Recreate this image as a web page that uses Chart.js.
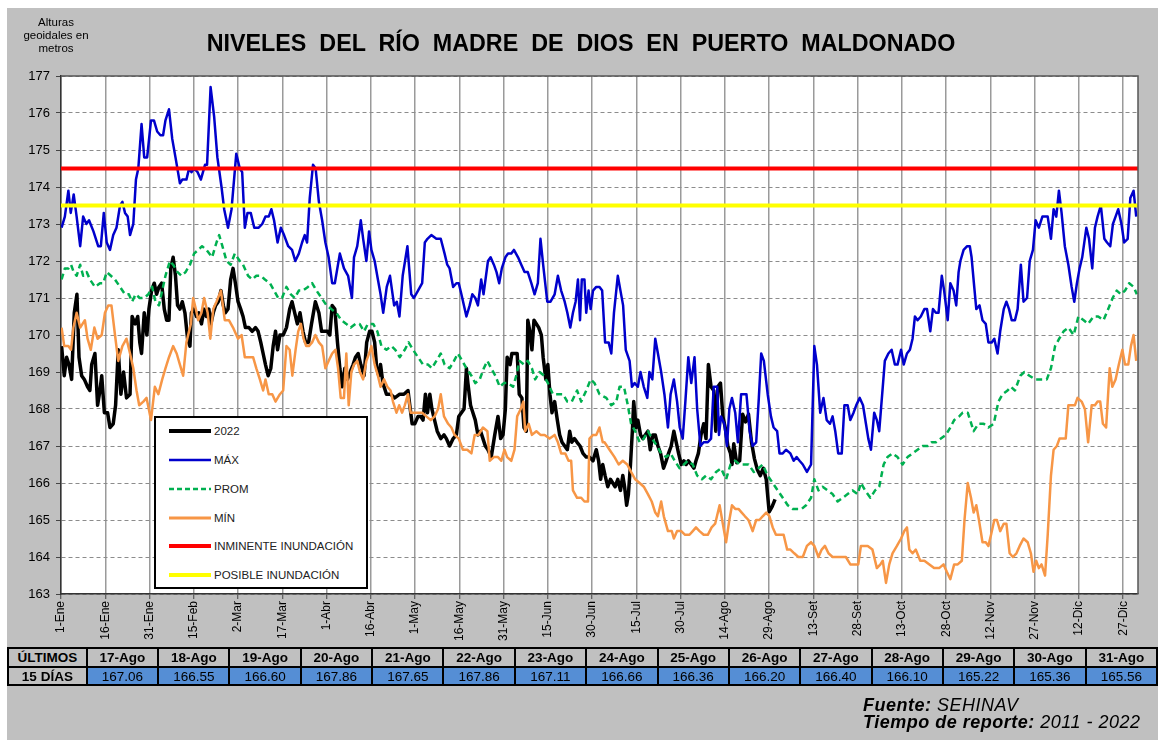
<!DOCTYPE html>
<html lang="es">
<head>
<meta charset="utf-8">
<title>Niveles del río Madre de Dios en Puerto Maldonado</title>
<script src="https://cdn.jsdelivr.net/npm/chart.js@4/dist/chart.umd.min.js"></script>
<style>
  html, body { margin: 0; padding: 0; background: #fff; }
  body { width: 1158px; height: 740px; position: relative; overflow: hidden; font-family: Arial, "Liberation Sans", sans-serif; }
  #fondo { position: absolute; left: 7px; top: 8px; width: 1151px; height: 732px; background: #c0c0c0; }
  #grafico { position: absolute; left: 0; top: 0; }
  #ejeTitulo { position: absolute; left: 14px; top: 16px; width: 84px; text-align: center; font-size: 11.5px; line-height: 13px; color: #000; }
  #titulo { position: absolute; left: 0; top: 30px; width: 1162px; text-align: center; font-size: 23.3px; font-weight: bold; white-space: pre; color: #000; }
  #leyenda { position: absolute; left: 154px; top: 416px; width: 214px; height: 173px; box-sizing: border-box; border: 2.5px solid #000; background: #fff; z-index: 2; }
  .item { position: absolute; left: 12px; height: 12px; font-size: 11.5px; line-height: 12px; color: #222; white-space: nowrap; }
  .item svg { position: absolute; left: 0; top: 0; }
  .item span { position: absolute; left: 46px; top: 0; }
  #tabla { position: absolute; left: 7px; top: 647px; border-collapse: collapse; table-layout: fixed; z-index: 2; }
  #tabla td { border: 2px solid #000; text-align: center; font-size: 13.5px; padding: 0; overflow: hidden; white-space: nowrap; }
  #tabla tr.cab td { height: 17px; font-weight: bold; background: #c0c0c0; }
  #tabla tr.val td { height: 16px; background: #558ed5; }
  #tabla tr.val td.lado { background: #c0c0c0; font-weight: bold; }
  #fuente { position: absolute; left: 863px; top: 697px; font-size: 18px; line-height: 17px; letter-spacing: 0.5px; font-style: italic; color: #000; white-space: nowrap; }
  #fuente b { font-weight: bold; }
</style>
</head>
<body>
<div id="fondo"></div>
<canvas id="grafico" width="1158" height="740"></canvas>
<div id="ejeTitulo">Alturas<br>geoidales en<br>metros</div>
<div id="titulo">NIVELES  DEL  RÍO  MADRE  DE  DIOS  EN  PUERTO  MALDONADO</div>
<div id="leyenda"></div>
<table id="tabla"></table>
<div id="fuente"><b>Fuente:</b> SEHINAV<br><b>Tiempo de reporte:</b> 2011 - 2022</div>

<script>
// eje x: día del año (0 = 1-Ene)
const etiquetasX = ['1-Ene','16-Ene','31-Ene','15-Feb','2-Mar','17-Mar','1-Abr','16-Abr','1-May','16-May',
  '31-May','15-Jun','30-Jun','15-Jul','30-Jul','14-Ago','29-Ago','13-Set','28-Set','13-Oct',
  '28-Oct','12-Nov','27-Nov','12-Dic','27-Dic'];
const diasTick = [0,15,30,45,60,75,90,105,120,135,150,165,180,195,210,225,240,255,270,285,300,315,330,345,360];

// umbrales (m)
const nivelInminente = 174.5;
const nivelPosible = 173.5;

// últimos 15 días (tabla inferior)
const ultimosFechas = ['17-Ago','18-Ago','19-Ago','20-Ago','21-Ago','22-Ago','23-Ago','24-Ago','25-Ago','26-Ago','27-Ago','28-Ago','29-Ago','30-Ago','31-Ago'];
const ultimosValores = [167.06,166.55,166.60,167.86,167.65,167.86,167.11,166.66,166.36,166.20,166.40,166.10,165.22,165.36,165.56];
const primerDiaTabla = 228; // 17-Ago

// [día, altura]
const serieMax = [[0.2,172.9],[1.3,173.2],[2.5,173.9],[3.3,173.3],[4.3,173.8],[5.3,173.2],[6.5,172.4],[7.5,173.2],[8.6,173.0],[9.5,173.1],[11,172.8],[12.6,172.4],[13.5,172.4],[14.5,173.3],[15.5,172.5],[16.6,172.3],[17.7,172.7],[18.8,172.9],[20,173.5],[20.8,173.6],[21.7,173.3],[22.6,173.2],[23.4,172.7],[24.5,173.0],[25.4,174.2],[26.2,174.5],[27.3,175.7],[28.2,174.8],[29.2,174.8],[30.5,175.8],[31.5,175.8],[32.6,175.5],[33.7,175.4],[34.6,175.4],[35.4,175.8],[36.6,176.1],[37.7,175.3],[38.8,174.8],[40.3,174.1],[41.1,174.2],[42.5,174.2],[43.4,174.5],[44.2,174.4],[45.1,174.5],[46.3,174.4],[47.4,174.2],[48.8,174.6],[49.5,174.6],[50.7,176.7],[51.9,175.9],[53,174.8],[54.4,174.0],[55.3,173.4],[56.6,172.9],[57.8,173.4],[59.4,174.9],[60.6,174.5],[61.4,174.4],[62.3,172.9],[63.2,173.3],[64.3,173.3],[65.5,172.9],[67,172.9],[68.2,173.0],[69.3,173.2],[70.4,173.2],[71.3,173.4],[72.2,173.1],[73.4,172.5],[74.5,172.9],[75.6,172.7],[77,172.4],[78.3,172.3],[79.4,172.0],[80.6,172.2],[81.7,172.5],[82.6,172.7],[83.4,172.5],[84.3,173.7],[85.4,174.6],[86.3,174.5],[87.4,173.6],[88.5,173.1],[89.6,172.5],[90.7,172.1],[91.9,171.4],[92.8,171.4],[94.5,172.2],[95.9,171.8],[97.3,171.6],[98.6,171.0],[99.3,172.1],[100.4,172.4],[101.6,173.1],[102.4,172.6],[103.5,172.0],[104.4,172.8],[105.2,172.3],[106.3,172.0],[107.4,171.5],[108.3,171.1],[109.2,170.6],[110.4,171.3],[111.5,171.6],[112.9,170.8],[113.8,170.9],[114.7,170.5],[115.8,171.6],[117.4,172.4],[118.7,171.1],[119.6,171.0],[121,171.2],[122.4,171.4],[123.3,172.5],[124.2,172.6],[125.5,172.7],[127.2,172.6],[128.7,172.6],[130,172.2],[130.9,171.9],[131.7,171.8],[132.9,171.3],[134,171.4],[134.8,171.4],[135.7,171.1],[137.4,170.5],[138.5,170.8],[139.4,171.1],[140.4,171.0],[141.3,170.8],[142.4,171.5],[143.2,171.1],[144.7,172.0],[145.6,172.1],[146.7,171.9],[147.6,171.7],[148.5,171.4],[149.4,171.8],[150.6,172.1],[151.5,172.2],[152.6,172.2],[153.5,172.3],[154.9,172.1],[156,171.9],[157.1,171.7],[158.2,171.7],[159.4,171.4],[160.5,171.1],[161.6,171.4],[162.5,172.6],[163.4,171.9],[164.8,170.9],[165.9,170.9],[167.3,171.1],[168.4,171.6],[169.5,171.2],[170.7,170.9],[171.6,170.6],[172.6,170.2],[173.5,170.6],[174.4,170.9],[175.2,171.5],[175.9,170.4],[176.5,171.5],[177.4,171.5],[178,170.6],[178.8,171.2],[179.5,170.7],[180.3,171.2],[181.4,171.3],[182.5,171.3],[183.4,171.2],[184.4,169.8],[185.6,169.8],[186.5,169.5],[187.4,170.6],[188.7,171.6],[189.6,171.2],[190.5,170.8],[191.4,169.6],[192.7,169.3],[193.5,168.6],[194.4,168.7],[195.5,168.6],[196.4,169.0],[197.5,168.6],[198.7,168.3],[199.4,169.0],[200.4,168.8],[201.4,169.9],[202.3,169.5],[203.4,169.0],[204.5,168.4],[205.7,167.5],[206.6,168.4],[207.7,168.8],[208.8,168.2],[209.7,167.5],[210.7,167.2],[211.6,168.2],[212.6,169.4],[213.6,168.7],[214.7,169.4],[215.6,168.0],[216.7,167.0],[217.8,167.1],[219.2,167.1],[220.3,167.2],[221.2,168.6],[222.4,168.6],[223,167.3],[223.7,167.8],[224.8,167.6],[225.7,167.0],[226.5,168.0],[227.4,168.3],[228.5,167.9],[229.4,167.1],[230.5,168.4],[231.4,168.4],[232.3,168.4],[233.4,167.4],[234.4,167.0],[235.6,167.1],[236.5,168.3],[237.3,169.5],[238.2,169.3],[239.5,168.4],[240.6,167.8],[241.5,167.5],[242.7,167.4],[243.5,166.8],[244.6,166.8],[245.7,166.9],[247.2,166.8],[248.3,166.6],[249.3,166.7],[250.3,166.6],[251.4,166.5],[252.8,166.3],[254.2,166.5],[255.3,169.7],[256.2,169.2],[257.3,167.9],[258.4,168.3],[259.5,167.7],[260.6,167.6],[261.5,167.8],[262.4,167.4],[263.4,166.8],[264.6,166.8],[265.5,168.1],[266.6,168.1],[267.5,167.7],[268.6,167.9],[269.5,168.1],[270.7,168.3],[271.8,168.1],[272.8,167.6],[273.6,167.2],[274.5,166.9],[275.6,167.9],[276.5,167.7],[277.3,167.4],[278.5,168.6],[279.2,169.3],[280.4,169.5],[281.5,169.6],[282.6,169.2],[283.5,169.2],[284.7,169.6],[285.6,169.2],[286.7,169.5],[287.7,169.6],[288.6,169.9],[289.4,170.5],[290.3,170.4],[291.4,170.5],[292.6,170.7],[293.5,170.7],[294.6,170.1],[295.5,170.7],[296.5,170.6],[297.4,170.6],[298.5,171.6],[299.3,171.2],[300.5,170.4],[301.4,171.4],[302.5,171.2],[303.4,170.8],[304.2,171.7],[304.8,172.0],[305.9,172.3],[307.1,172.4],[308,172.4],[308.6,172.1],[309.5,171.3],[310.2,170.7],[311.3,170.8],[312.3,170.4],[313.4,170.3],[314.3,169.8],[315.4,169.8],[316.3,169.9],[317.4,169.5],[318.3,170.1],[319.5,170.7],[320.4,170.9],[321.3,170.7],[322.2,170.4],[323.3,170.4],[324.2,170.7],[325.3,171.9],[326.2,170.9],[327.4,171.0],[328.3,172.0],[329.4,172.3],[330.3,173.1],[331.4,172.9],[332.6,173.2],[333.5,173.2],[334.4,173.2],[335.5,172.6],[336.4,173.4],[337.3,173.2],[338.2,173.9],[339.1,173.3],[340.2,172.4],[341.4,171.9],[342.5,171.3],[343.4,170.9],[344.3,171.4],[345.2,171.8],[346.1,172.1],[347.5,172.9],[348.4,172.6],[349.5,171.8],[350.4,172.9],[351.3,173.2],[352.4,173.5],[353.6,172.6],[354.5,172.5],[355.6,172.4],[356.5,173.0],[357.4,173.2],[358.3,173.4],[359.4,173.0],[360.3,172.5],[361.5,172.6],[362.4,173.7],[363.5,173.9],[364.4,173.2]];

const serieProm = [[0.2,171.5],[1.3,171.8],[2.5,171.8],[3.4,171.9],[4.3,171.7],[5.3,171.6],[6.5,171.9],[7.5,171.6],[8.7,171.7],[9.8,171.5],[11.5,171.3],[13.2,171.4],[14.3,171.4],[15.5,171.7],[16.9,171.6],[18.3,171.5],[20,171.3],[21.7,171.1],[23,171.1],[24.1,170.9],[25.3,171.1],[26.7,171.0],[28.2,171.0],[29.6,171.1],[30.9,171.3],[32,170.9],[33.2,170.8],[34.3,171.2],[35.4,171.6],[36.9,172.0],[38,171.9],[39.5,171.7],[40.8,171.6],[42.2,171.7],[43.7,171.9],[45.1,172.2],[46.5,172.3],[47.8,172.4],[49.3,172.3],[51.2,172.1],[52.7,172.5],[53.6,172.7],[54.7,172.4],[56.1,172.0],[57.5,171.9],[58.9,172.2],[60.6,172.0],[61.7,171.9],[63.4,171.6],[64.8,171.5],[66.2,171.6],[67.7,171.6],[69.1,171.5],[70.8,171.4],[72.2,171.2],[73.6,171.0],[74.9,171.0],[76.4,171.3],[77.9,171.1],[79.2,171.0],[80.6,171.2],[82,171.2],[83.7,171.3],[85.1,171.4],[86.6,171.2],[88.3,171.0],[90,170.8],[91.6,170.7],[93.3,170.6],[95,170.4],[96.7,170.3],[98.2,170.2],[99.8,170.3],[101.2,170.3],[102.7,170.1],[104,170.3],[105.8,170.3],[107.2,170.1],[108.6,169.7],[110.3,169.6],[112,169.7],[113.3,169.6],[114.8,169.4],[116.5,169.6],[117.8,169.8],[119.3,169.6],[121,169.4],[122.7,169.2],[124.4,169.2],[125.7,169.1],[127.2,169.3],[128.7,169.5],[130,169.2],[131.7,169.1],[133.2,169.3],[134.5,169.5],[136,169.3],[137.4,169.1],[139.1,168.9],[140.4,168.7],[141.9,168.8],[143.3,169.1],[144.5,169.3],[145.8,169.1],[147.2,168.9],[148.7,168.6],[150.1,168.7],[151.5,168.7],[153.2,168.6],[154.3,168.9],[155.4,169.3],[156.9,169.2],[158.2,169.3],[159.6,169.1],[160.7,168.8],[162.2,169.0],[163.7,168.9],[165,168.7],[166.7,168.4],[168.4,168.4],[170.1,168.4],[171.6,168.2],[173.1,168.2],[174.9,168.5],[176.3,168.2],[178,168.5],[179.5,168.8],[180.8,168.7],[182.5,168.4],[184.8,168.3],[186.5,168.1],[188.2,168.2],[189.3,168.6],[190.8,168.6],[192.1,168.1],[193.2,167.6],[194.6,167.4],[196.1,167.1],[197.5,167.2],[198.9,167.4],[200.3,167.2],[202,167.0],[203.4,166.8],[205.1,166.7],[206.6,166.8],[208,166.6],[209.6,166.4],[211.1,166.5],[212.4,166.6],[214.1,166.5],[215.6,166.2],[217.2,166.1],[218.6,166.2],[220.3,166.1],[222,166.3],[223.7,166.4],[225.4,166.1],[226.9,166.5],[228.5,166.6],[230,166.5],[231.6,166.5],[233,166.5],[234.8,166.3],[236.4,166.4],[237.8,166.5],[239.5,166.2],[241.2,166.0],[242.9,165.8],[244.6,165.6],[246.3,165.4],[248,165.3],[249.7,165.3],[251,165.3],[252.5,165.4],[254.2,165.6],[255.3,166.1],[256.7,165.8],[258.1,165.9],[259.8,165.8],[261.5,165.7],[263.2,165.5],[264.9,165.6],[266.6,165.7],[268.3,165.8],[270,165.7],[271.1,166.0],[272.5,165.8],[274.3,165.6],[275.9,165.8],[277.3,165.9],[278.8,166.5],[280.1,166.7],[281.8,166.8],[283.5,166.7],[285.2,166.5],[286.9,166.7],[288.6,166.8],[290.3,166.9],[292,167.0],[293.7,167.0],[295,167.1],[296.5,167.1],[298.2,167.2],[299.9,167.3],[301.4,167.5],[302.7,167.7],[304.4,167.8],[305.6,167.9],[307.3,167.9],[309.3,167.4],[310.9,167.6],[312.7,167.6],[314.3,167.5],[316.1,167.6],[317.7,168.2],[319.1,168.4],[320.8,168.5],[321.9,168.6],[323.3,168.5],[325.1,168.9],[326.5,169.0],[328.2,168.9],[330.1,168.8],[332.1,168.8],[334.1,168.8],[335.5,169.1],[336.9,169.7],[338.3,169.9],[339.8,170.1],[341.4,170.2],[343.2,170.0],[344.8,170.5],[346.6,170.4],[348.1,170.3],[349.9,170.5],[351.5,170.5],[353.3,170.4],[354.9,170.7],[356.4,171.0],[357.8,171.2],[359.2,171.1],[360.6,171.2],[362,171.4],[363.5,171.3],[364.6,171.1]];

const serieMin = [[0.2,170.2],[1.1,169.7],[2.5,169.7],[3.4,169.6],[4.2,170.2],[5.3,170.6],[6.5,170.2],[8.1,170.4],[9,169.9],[10.1,169.6],[11.3,170.2],[12.4,169.9],[13.8,170.0],[14.9,170.6],[16,170.8],[17.1,170.8],[18.3,170.0],[19.4,169.3],[20.8,169.7],[22.2,169.9],[23.4,169.5],[24.5,169.1],[25.6,168.5],[26.5,168.1],[27.9,168.2],[29,168.3],[30.5,167.7],[31.8,168.6],[33,168.4],[34.3,168.8],[35.4,169.1],[36.6,169.4],[38,169.7],[39.2,169.5],[40.3,169.2],[41.4,168.9],[42.5,169.8],[44,170.3],[44.8,171.0],[45.7,170.7],[46.5,170.4],[47.6,170.6],[48.5,171.0],[49.7,170.6],[50.6,169.9],[51.6,170.7],[52.7,170.9],[54.2,171.2],[55.5,170.4],[56.9,170.4],[58.3,170.2],[60,169.9],[61.2,170.0],[62.3,169.4],[63.7,169.4],[65.1,169.4],[66.2,169.1],[67.4,168.8],[68.5,168.5],[69.3,168.8],[70.4,168.4],[71.6,168.4],[72.7,168.2],[74.2,168.4],[75.3,168.5],[76.4,169.7],[77.5,169.6],[78.4,168.9],[79.5,169.6],[80.4,170.1],[81.3,170.3],[82.2,169.9],[83.1,169.7],[84,169.7],[85.1,169.8],[86.2,170.0],[87.4,169.8],[88.5,169.7],[89.6,169.1],[90.7,169.3],[91.9,169.5],[93,169.6],[93.9,169.1],[94.8,168.3],[95.9,168.3],[96.7,169.5],[97.5,168.1],[98.4,169.0],[99.3,169.2],[100.4,169.3],[101.3,169.0],[102.4,168.8],[103.5,169.3],[104.4,169.5],[105.2,169.7],[106.3,169.2],[107.4,168.9],[108.3,168.6],[109.5,168.8],[110.6,168.6],[111.7,168.5],[112.5,168.2],[113.7,167.9],[114.6,168.1],[115.6,167.9],[116.5,168.1],[117.6,168.4],[118.5,167.9],[119.6,167.9],[121,167.9],[122.4,167.9],[123.8,167.8],[125.3,167.7],[126.6,167.8],[127.8,168.0],[128.7,168.4],[129.8,167.8],[131.2,167.6],[132.3,167.5],[133.4,167.3],[134.8,167.2],[136.2,166.9],[137.7,166.9],[139.1,166.8],[140.2,167.3],[141.5,167.3],[143,167.5],[144.5,167.4],[145.3,166.6],[146.7,166.7],[148.1,166.7],[149.2,166.6],[150.3,166.9],[151.2,166.7],[152.6,166.6],[153.7,166.9],[154.6,167.8],[155.8,168.0],[156.7,168.2],[157.3,167.4],[158.5,167.6],[159.6,167.3],[161.1,167.4],[162.5,167.3],[163.9,167.3],[165.6,167.2],[167.3,167.3],[168.4,167.1],[169.5,166.8],[170.9,166.8],[172,166.6],[172.9,166.6],[173.5,165.8],[174.9,165.6],[176.3,165.6],[177.4,165.5],[178.6,165.5],[179.1,167.2],[180.3,167.3],[181.4,167.3],[182.5,167.5],[183.6,167.1],[184.2,167.1],[185.9,166.9],[187.6,166.7],[189,166.5],[190.4,166.6],[191.9,166.5],[193.2,166.3],[194.6,166.1],[196.1,166.0],[197.5,165.9],[198.9,165.7],[200.2,165.5],[201.4,165.2],[202.3,165.1],[203.4,165.5],[204.3,165.1],[205.7,164.7],[207,164.7],[207.7,164.5],[208.8,164.7],[210.2,164.7],[211.5,164.6],[213,164.6],[214.1,164.7],[215.2,164.8],[216.4,164.7],[217.8,164.6],[219.2,164.6],[220.5,164.8],[221.7,164.9],[223.2,165.4],[224.3,164.9],[225.4,164.4],[226.5,165.0],[227.4,165.4],[228.5,165.3],[229.6,165.3],[230.7,165.2],[231.8,165.1],[233,165.0],[234.4,164.7],[235.6,165.0],[236.7,165.0],[237.8,165.1],[239,165.2],[240.1,165.1],[241.2,164.8],[242.3,164.6],[243.8,164.6],[244.9,164.6],[246.1,164.2],[247.2,164.2],[248.5,164.1],[249.9,164.0],[251.4,164.0],[252.8,164.3],[254.2,164.4],[255.3,164.3],[256.7,164.0],[257.8,164.2],[258.9,164.3],[260.1,164.1],[261.5,164.0],[263,164.0],[264.3,164.0],[266,164.0],[267.5,163.8],[268.9,163.8],[270.2,163.8],[271.1,164.3],[272.2,164.3],[273.4,164.3],[275,164.2],[276.5,163.7],[277.7,163.8],[278.5,163.9],[279.6,163.3],[280.7,163.8],[281.8,164.1],[283.3,164.3],[284.7,164.5],[285.8,164.7],[286.7,164.8],[287.5,164.2],[288.6,164.1],[289.7,164.2],[291.2,163.9],[292.6,163.9],[294.3,163.8],[295.9,163.7],[297.6,163.7],[299.1,163.8],[300.2,163.6],[301.4,163.4],[302.7,163.8],[303.9,163.8],[305.3,163.9],[306.2,165.0],[307.3,166.0],[308.4,165.6],[309.3,165.2],[310.2,165.4],[311.1,165.0],[312.3,164.4],[313.4,164.4],[314.3,164.3],[315.2,164.6],[316.3,165.0],[317.2,165.0],[318.3,164.7],[319.5,164.9],[320.4,164.9],[321.5,164.1],[322.6,164.0],[323.8,164.1],[324.9,164.3],[326.2,164.5],[327.6,164.4],[328.7,164.1],[329.6,163.6],[330.5,163.9],[331.4,163.7],[332.3,163.8],[333.5,163.5],[334.4,164.6],[335.5,166.2],[336.4,166.9],[337.5,167.0],[338.4,167.2],[339.6,167.2],[340.5,167.2],[341.4,168.1],[342.5,168.1],[343.6,168.1],[344.5,168.3],[345.9,168.2],[347,168.0],[348.1,167.1],[349.3,168.1],[350.4,168.1],[351.3,168.2],[352.2,168.2],[353.1,167.6],[354.2,167.5],[355.4,169.1],[356.3,168.6],[357.4,168.8],[358.5,169.2],[359.7,169.6],[360.6,169.2],[361.7,169.2],[362.6,169.7],[363.5,170.0],[364.4,169.3]];

// 2022 hasta el 16-Ago; del 17 al 31-Ago se toman los valores de la tabla
const serie2022Lectura = [[0.2,169.7],[1.1,168.9],[1.9,169.4],[2.7,169.2],[3.6,168.8],[4.5,170.6],[5.4,171.1],[6.1,169.4],[7,168.9],[7.9,168.8],[9,168.6],[9.8,168.5],[10.4,169.2],[11.5,169.5],[12.4,168.1],[13.2,168.5],[13.8,168.9],[14.7,167.9],[15.8,167.9],[16.6,167.5],[17.7,167.6],[18.5,168.1],[19.4,169.6],[20.3,168.4],[21.2,169.0],[22.2,168.3],[23.4,168.4],[24.1,170.5],[25.1,170.3],[26,170.5],[26.7,169.8],[27.3,169.5],[28.2,170.6],[29.1,170.0],[29.8,170.7],[30.7,171.2],[31.6,171.4],[32.4,171.1],[33.2,171.3],[34.1,171.4],[35,170.7],[35.8,170.4],[36.6,170.4],[37.2,171.8],[38,172.1],[38.8,171.6],[39.5,170.8],[40.3,170.7],[41.1,170.9],[42,170.6],[42.9,169.9],[43.7,169.7],[44.2,170.6],[45.1,170.7],[45.9,170.5],[46.7,170.6],[47.6,170.3],[48.5,170.7],[49.3,170.5],[50.1,170.7],[50.8,170.3],[51.6,170.6],[52.4,170.8],[53.3,170.9],[54.2,171.2],[55,170.8],[55.7,170.6],[56.6,170.7],[57.5,171.5],[58.3,171.8],[59.1,171.4],[60,170.9],[60.9,170.7],[61.7,170.5],[62.5,170.2],[63.7,170.2],[64.8,170.1],[65.9,170.2],[66.8,170.1],[67.7,169.8],[68.5,169.5],[69.3,169.2],[70.2,168.9],[71.1,169.1],[71.9,169.7],[72.7,170.1],[73.4,169.6],[74.2,170.0],[75.3,170.0],[76.4,170.2],[77.5,170.7],[78.3,170.9],[79.2,170.6],[80.1,170.3],[81,170.6],[82,170.1],[82.9,169.8],[83.9,169.8],[84.9,170.3],[86.2,170.9],[87.4,170.6],[88.3,170.1],[89.2,170.1],[90.3,170.1],[91.1,170.0],[91.9,170.8],[92.8,170.7],[93.7,169.8],[94.5,169.1],[95.3,168.6],[96.2,169.1],[97.1,168.8],[98,169.0],[99,169.2],[99.8,169.4],[100.7,169.5],[101.6,169.2],[102.7,168.9],[103.6,169.8],[104.6,170.1],[105.4,170.1],[106.3,169.8],[107,169.1],[107.7,168.9],[108.3,169.2],[109.1,168.7],[110.3,168.4],[111.7,168.4],[113.1,168.3],[114.8,168.4],[116.2,168.4],[117.6,168.5],[118.2,168.1],[119,167.6],[119.9,167.6],[121,167.8],[121.9,167.8],[122.7,167.7],[123.5,168.4],[124.2,167.9],[125,168.4],[125.7,168.0],[126.6,167.7],[127.5,167.4],[128.7,167.2],[129.8,167.3],[130.6,167.2],[131.7,167.0],[132.9,167.2],[134,167.3],[134.8,167.8],[135.7,167.9],[136.6,168.0],[137.4,169.1],[137.9,168.7],[138.8,168.1],[139.6,167.9],[140.4,167.7],[141.3,167.3],[142.2,167.4],[143,167.2],[143.8,167.0],[144.7,166.9],[145.8,166.7],[147,167.3],[148.1,167.8],[149,167.2],[149.8,167.3],[150.6,168.0],[151.2,169.4],[152.2,169.2],[152.8,169.5],[153.7,169.5],[154.6,169.5],[155.3,168.4],[156.2,168.3],[156.9,167.5],[157.7,167.4],[158.2,170.4],[158.9,170.1],[159.6,169.6],[160.3,170.4],[161.1,170.3],[161.9,170.2],[162.8,170.0],[163.4,169.4],[164.3,168.8],[165,169.2],[165.7,168.4],[166.4,167.9],[167.3,168.2],[168.2,167.7],[169,167.3],[169.8,167.1],[170.7,167.0],[171.6,166.9],[172.4,167.4],[173.1,167.1],[174,167.2],[174.9,167.1],[175.9,167.0],[176.9,166.8],[178,166.7],[179.1,166.7],[180.3,166.6],[181.4,166.9],[182.2,166.6],[182.9,166.1],[183.6,166.5],[184.4,166.2],[185.3,165.9],[186.2,166.1],[187,166.0],[187.8,165.9],[188.7,166.1],[189.6,165.8],[190.4,166.2],[191,165.9],[191.7,165.4],[192.3,165.7],[193,166.5],[193.7,167.5],[194.1,168.2],[194.9,167.5],[195.5,167.7],[196.4,167.3],[197.2,167.2],[198,167.3],[198.9,167.4],[199.7,166.9],[200.6,167.3],[201.4,167.3],[202.3,167.0],[203.2,166.8],[204.2,166.4],[205.1,166.6],[205.9,166.8],[206.8,167.0],[207.7,167.4],[208.5,167.1],[209.3,166.8],[210.2,166.5],[211.1,166.6],[211.9,166.5],[212.6,166.6],[213.6,166.5],[214.5,166.4],[215.2,166.6],[216,166.8],[216.9,167.3],[217.8,167.6],[218.6,167.2],[219.4,169.2],[220.3,168.6],[221.2,168.5],[221.9,167.4],[222.6,168.6],[223.5,168.7],[224.3,167.8],[225.1,167.5],[226,167.0],[226.9,166.8],[227.4,166.5]];

const serie2022 = serie2022Lectura.concat(ultimosValores.map((v, i) => [primerDiaTabla + i, v]));

function pts(pares) {
  return pares.map(p => ({ x: p[0], y: p[1] }));
}

const series = [
  { nombre: '2022', datos: serie2022, color: '#000000', ancho: 3.5, guion: [], orden: 6, muestra: 4 },
  { nombre: 'MÁX', datos: serieMax, color: '#0000cc', ancho: 2.5, guion: [], orden: 5, muestra: 2.5 },
  { nombre: 'PROM', datos: serieProm, color: '#00b050', ancho: 2.5, guion: [6, 4], orden: 4, muestra: 2.5 },
  { nombre: 'MÍN', datos: serieMin, color: '#f79646', ancho: 2.5, guion: [], orden: 3, muestra: 3 },
  { nombre: 'INMINENTE INUNDACIÓN', datos: [[0, nivelInminente], [365, nivelInminente]], color: '#ff0000', ancho: 4, guion: [], orden: 2, muestra: 4 },
  { nombre: 'POSIBLE INUNDACIÓN', datos: [[0, nivelPosible], [365, nivelPosible]], color: '#ffff00', ancho: 4, guion: [], orden: 1, muestra: 4 }
];

// fondo blanco del área de trazado y marco superior/derecho
const marcoArea = {
  id: 'marcoArea',
  beforeDraw(chart) {
    const { ctx, chartArea: a } = chart;
    ctx.save();
    ctx.fillStyle = '#fff';
    ctx.fillRect(a.left, a.top, a.right - a.left, a.bottom - a.top);
    ctx.restore();
  },
  afterDraw(chart) {
    const { ctx, chartArea: a } = chart;
    ctx.save();
    ctx.strokeStyle = '#555';
    ctx.lineWidth = 1.5;
    ctx.beginPath();
    ctx.moveTo(a.left, a.top);
    ctx.lineTo(a.right, a.top);
    ctx.lineTo(a.right, a.bottom);
    ctx.stroke();
    ctx.restore();
  }
};

const ctx = document.getElementById('grafico').getContext('2d');
new Chart(ctx, {
  type: 'line',
  data: {
    datasets: series.map(s => ({
      label: s.nombre,
      data: pts(s.datos),
      borderColor: s.color,
      backgroundColor: s.color,
      borderWidth: s.ancho,
      borderDash: s.guion,
      borderJoinStyle: 'round',
      borderCapStyle: 'butt',
      pointRadius: 0,
      tension: 0,
      fill: false,
      order: s.orden
    }))
  },
  options: {
    responsive: false,
    animation: false,
    layout: { padding: { left: 11, top: 76, right: 20, bottom: 96 } },
    plugins: { legend: { display: false }, title: { display: false }, tooltip: { enabled: false } },
    scales: {
      x: {
        type: 'linear',
        min: 0,
        max: 365,
        afterBuildTicks: s => { s.ticks = diasTick.map(v => ({ value: v })); },
        afterFit: s => { s.height = 50; },
        ticks: {
          autoSkip: false,
          minRotation: 90,
          maxRotation: 90,
          padding: 2,
          color: '#000',
          font: { family: 'Arial, "Liberation Sans", sans-serif', size: 12 },
          callback: (v, i) => etiquetasX[i]
        },
        grid: { color: '#9a9a9a', lineWidth: 1.5, tickLength: 5, tickColor: '#444', tickWidth: 1 },
        border: { color: '#333', width: 1.5 }
      },
      y: {
        min: 163,
        max: 177,
        afterFit: s => { s.width = 50; },
        ticks: {
          stepSize: 1,
          padding: 6,
          color: '#000',
          font: { family: 'Arial, "Liberation Sans", sans-serif', size: 13 }
        },
        grid: { color: '#8c8c8c', lineWidth: 1, tickLength: 5, tickColor: '#444', tickBorderDash: [] },
        border: { color: '#333', width: 1.5, dash: [4, 3] }
      }
    }
  },
  plugins: [marcoArea]
});

// leyenda
const leyenda = document.getElementById('leyenda');
const filasY = [12.5, 41.5, 70.5, 99.5, 127.5, 156.5];
series.forEach((s, i) => {
  const d = document.createElement('div');
  d.className = 'item';
  d.style.top = (filasY[i] - 6) + 'px';
  const dash = s.guion.length ? ' stroke-dasharray="5 3"' : '';
  d.innerHTML = `<svg width="44" height="12"><line x1="1" y1="6" x2="43" y2="6" stroke="${s.color}" stroke-width="${s.muestra}"${dash}/></svg><span>${s.nombre}</span>`;
  leyenda.appendChild(d);
});

// tabla de los últimos 15 días
const tabla = document.getElementById('tabla');
let cab = '<col style="width:79px">' + ultimosFechas.map(() => '<col style="width:71.67px">').join('');
cab += '<tr class="cab"><td>ÚLTIMOS</td>' + ultimosFechas.map(f => `<td>${f}</td>`).join('') + '</tr>';
cab += '<tr class="val"><td class="lado">15 DÍAS</td>' + ultimosValores.map(v => `<td>${v.toFixed(2)}</td>`).join('') + '</tr>';
tabla.innerHTML = cab;
</script>
</body>
</html>
